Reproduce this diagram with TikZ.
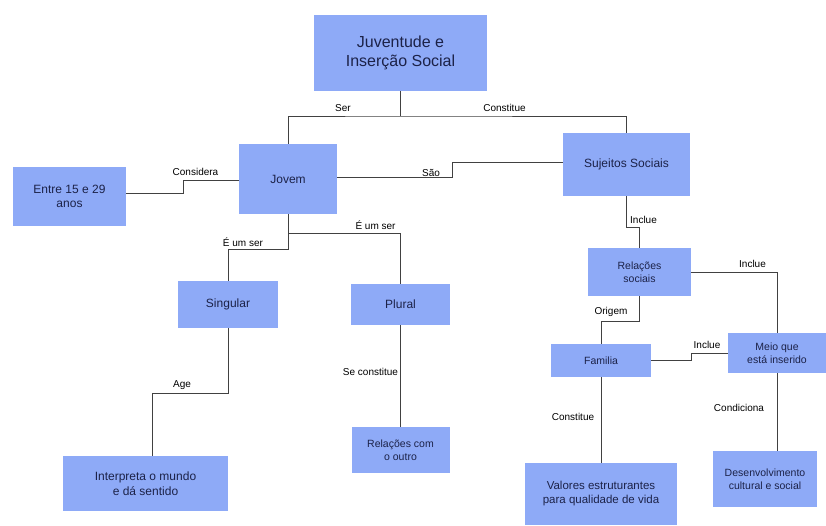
\documentclass[tikz,border=0pt]{standalone}
\usepackage{fontspec}
\setmainfont{Liberation Sans}
\definecolor{boxfill}{RGB}{142,170,247}
\definecolor{boxtext}{RGB}{28,34,72}
\definecolor{linecol}{RGB}{65,65,65}
\begin{document}
\begin{tikzpicture}[x=1pt,y=-1pt,
  box/.style={rectangle,fill=boxfill,text=boxtext,inner sep=0pt,align=center},
  big/.style={font=\fontsize{12}{14.5}\selectfont},
  small/.style={font=\fontsize{10.5}{12.5}\selectfont},
  lbl/.style={inner sep=0pt,text=black,font=\fontsize{10}{12}\selectfont},
  conn/.style={draw=linecol,line width=1pt}]
\useasboundingbox[fill=white] (0,0) rectangle (826,525);

% nodes
\node[box,minimum width=173pt,minimum height=76pt,font=\fontsize{16}{19}\selectfont] (top) at (400.5,53) {Juventude e\\Inserção Social};
\node[box,big,minimum width=98pt,minimum height=70pt] (jovem) at (288,179) {Jovem};
\node[box,big,minimum width=113pt,minimum height=59pt] (entre) at (69.5,196.5) {Entre 15 e 29\\anos};
\node[box,big,minimum width=127pt,minimum height=63pt] (suj) at (626.5,164.5) {Sujeitos Sociais};
\node[box,small,minimum width=103pt,minimum height=48pt] (relsoc) at (639.5,272) {Relações\\sociais};
\node[box,small,minimum width=100pt,minimum height=33pt] (familia) at (601,360.5) {Familia};
\node[box,small,minimum width=98pt,minimum height=40pt] (meio) at (777,353) {Meio que\\está inserido};
\node[box,font=\fontsize{11.5}{14}\selectfont,minimum width=152pt,minimum height=62pt] (valores) at (601,494) {Valores estruturantes\\para qualidade de vida};
\node[box,small,minimum width=104pt,minimum height=56pt] (desenv) at (765,479) {Desenvolvimento\\cultural e social};
\node[box,big,minimum width=100pt,minimum height=47pt] (singular) at (228,304.5) {Singular};
\node[box,big,minimum width=99pt,minimum height=41pt] (plural) at (400.5,304.5) {Plural};
\node[box,big,minimum width=165pt,minimum height=55pt] (interp) at (145.5,483.5) {Interpreta o mundo\\e dá sentido};
\node[box,small,minimum width=98pt,minimum height=46pt] (relcom) at (400.5,450) {Relações com\\o outro};

% junction coordinates
\coordinate (t1) at (400.5,116);
\coordinate (e1) at (183,193);
\coordinate (e2) at (183,180);
\coordinate (s1) at (452,177);
\coordinate (s2) at (452,162);
\coordinate (u1) at (626.5,227);
\coordinate (u2) at (639.5,227);
\coordinate (r1) at (639.5,321);
\coordinate (r2) at (601,321);
\coordinate (f1) at (691,360.5);
\coordinate (f2) at (691,353);
\coordinate (j1) at (288,233);
\coordinate (j2) at (288,249);
\coordinate (j3) at (228,249);
\coordinate (p1) at (400.5,233);
\coordinate (a1) at (228,393);
\coordinate (a2) at (152,393);
\coordinate (a3) at (152,456);

% connectors
\draw[conn] (top.south) -- (t1);
\draw[conn] (jovem.north) |- (t1) -| (suj.north);
\draw[conn] (entre.east |- e1) -- (e1) -- (e2) -- (jovem.west |- e2);
\draw[conn] (jovem.east |- s1) -- (s1) -- (s2) -- (suj.west |- s2);
\draw[conn] (suj.south) -- (u1) -- (u2) -- (relsoc.north);
\draw[conn] (relsoc.east) -| (meio.north);
\draw[conn] (relsoc.south) -- (r1) -- (r2) -- (familia.north);
\draw[conn] (familia.east) -- (f1) -- (f2) -- (meio.west);
\draw[conn] (familia.south) -- (valores.north);
\draw[conn] (meio.south) -- (meio.south |- desenv.north);
\draw[conn] (jovem.south) -- (j1) -- (p1) -- (plural.north);
\draw[conn] (j1) -- (j2) -- (j3) -- (singular.north);
\draw[conn] (singular.south) -- (a1) -- (a2) -- (a3);
\draw[conn] (plural.south) -- (relcom.north);

% labels
\node[lbl] (lser) at (343,108) {Ser};
\node[lbl] (lconst) at (504.5,108) {Constitue};
\node[lbl] (lcons) at (195.5,172) {Considera};
\node[lbl] (lsao) at (431,173) {São};
\node[lbl] (linc1) at (643.5,220) {Inclue};
\node[lbl] (lum1) at (375.5,225) {É um ser};
\node[lbl] (lum2) at (243,242) {É um ser};
\node[lbl] (linc2) at (752.5,264) {Inclue};
\node[lbl] (lorig) at (611,312) {Origem};
\node[lbl] (linc3) at (707,345) {Inclue};
\node[lbl] (lage) at (182,385) {Age};
\node[lbl] (lsec) at (370.5,372) {Se constitue};
\node[lbl] (lconst2) at (573,417) {Constitue};
\node[lbl] (lcond) at (739,408) {Condiciona};
\end{tikzpicture}
\end{document}
